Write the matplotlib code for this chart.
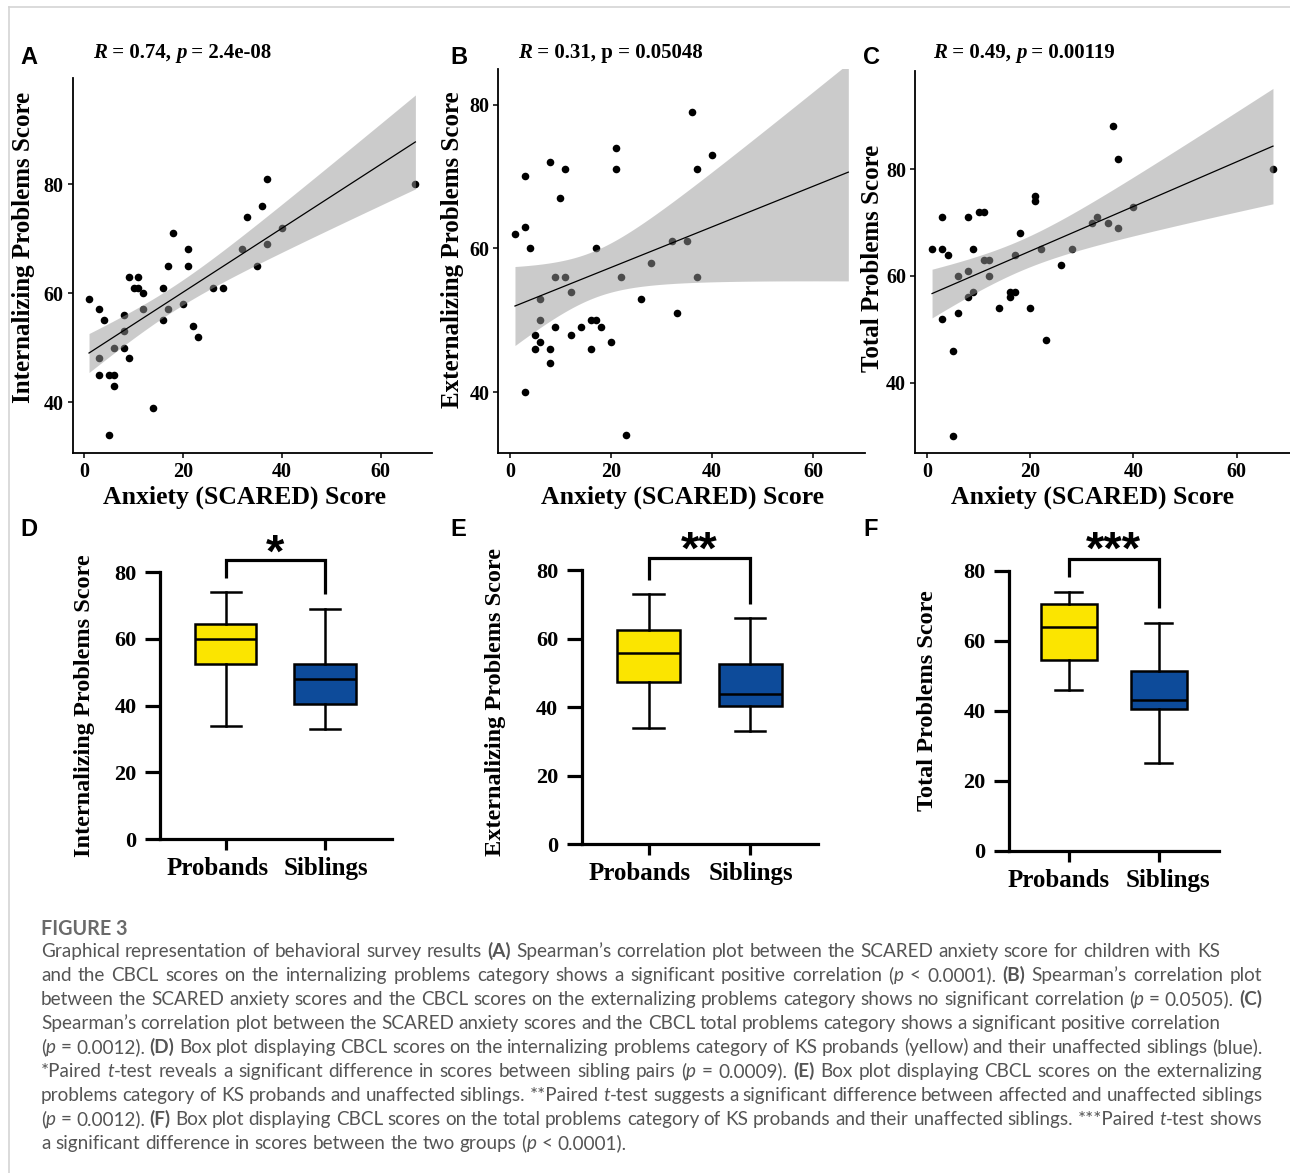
import re
import numpy as np
import matplotlib
matplotlib.use('Agg')
import matplotlib.pyplot as plt
from matplotlib.lines import Line2D
from matplotlib.transforms import ScaledTranslation

# scatter data (anxiety score vs CBCL score)
anx_int = [1, 3, 4, 3, 3, 5, 6, 6, 5, 6, 8, 8, 8, 9, 9, 10, 11, 11, 12, 12, 14, 16, 16, 17, 17,
           18, 20, 21, 21, 22, 23, 26, 28, 32, 33, 35, 36, 37, 37, 40, 67]
internalizing = [59, 57, 55, 48, 45, 45, 45, 43, 34, 50, 50, 53, 56, 48, 63, 61, 63, 61, 60, 57, 39, 61, 55, 65, 57,
                 71, 58, 68, 65, 54, 52, 61, 61, 68, 74, 65, 76, 81, 69, 72, 80]

anx_ext = [1, 3, 3, 3, 4, 5, 5, 6, 6, 6, 8, 8, 8, 9, 9, 10, 11, 11, 12, 12, 14, 16, 17, 16, 17,
           18, 20, 21, 21, 22, 23, 26, 28, 32, 33, 35, 36, 37, 37, 40]
externalizing = [62, 70, 63, 40, 60, 48, 46, 53, 50, 47, 72, 46, 44, 56, 49, 67, 71, 56, 54, 48, 49, 50, 50, 46, 60,
                 49, 47, 74, 71, 56, 34, 53, 58, 61, 51, 61, 79, 71, 56, 73]

anx_tot = [1, 3, 3, 3, 4, 5, 5, 6, 6, 8, 8, 8, 9, 9, 10, 11, 11, 12, 12, 14, 16, 16, 17, 17, 18,
           20, 21, 21, 22, 23, 26, 28, 32, 33, 35, 36, 37, 37, 40, 67]
total = [65, 71, 65, 52, 64, 46, 30, 60, 53, 71, 61, 56, 65, 57, 72, 72, 63, 63, 60, 54, 57, 56, 57, 64, 68,
         54, 75, 74, 65, 48, 62, 65, 70, 71, 70, 88, 82, 69, 73, 80]

fit_xmax = 67  # smooth line is drawn up to the largest anxiety score

scatter_titles = ['<i>R</i> = 0.74, <i>p</i> = 2.4e-08',
                  '<i>R</i> = 0.31, p = 0.05048',
                  '<i>R</i> = 0.49, <i>p</i> = 0.00119']
scatter_ylabels = ['Internalizing Problems Score', 'Externalizing Problems Score', 'Total Problems Score']
scatter_ylims = [(30.6, 99.4), (31.5, 84.9), (26.75, 98.4)]

# box plot summaries: (whisker low, q1, median, q3, whisker high)
groups = ['Probands', 'Siblings']
int_probands = [34, 52.5, 60, 64.5, 74]
int_siblings = [33, 40.5, 48, 52.5, 69]
ext_probands = [34, 47.5, 56, 62.5, 73]
ext_siblings = [33, 40.5, 44, 52.5, 66]
tot_probands = [46, 54.5, 64, 70.5, 74]
tot_siblings = [25, 40.5, 43, 51.5, 65]
stars = ['*', '**', '***']

caption_title = 'FIGURE 3'
caption_lines = [
    'Graphical representation of behavioral survey results <b>(A)</b> Spearman\u2019s correlation plot between the SCARED anxiety score for children with KS',
    'and the CBCL scores on the internalizing problems category shows a significant positive correlation (<i>p</i> < 0.0001). <b>(B)</b> Spearman\u2019s correlation plot',
    'between the SCARED anxiety scores and the CBCL scores on the externalizing problems category shows no significant correlation (<i>p</i> = 0.0505). <b>(C)</b>',
    'Spearman\u2019s correlation plot between the SCARED anxiety scores and the CBCL total problems category shows a significant positive correlation',
    '(<i>p</i> = 0.0012). <b>(D)</b> Box plot displaying CBCL scores on the internalizing problems category of KS probands (yellow) and their unaffected siblings (blue).',
    '*Paired <i>t</i>-test reveals a significant difference in scores between sibling pairs (<i>p</i> = 0.0009). <b>(E)</b> Box plot displaying CBCL scores on the externalizing',
    'problems category of KS probands and unaffected siblings. **Paired <i>t</i>-test suggests a significant difference between affected and unaffected siblings',
    '(<i>p</i> = 0.0012). <b>(F)</b> Box plot displaying CBCL scores on the total problems category of KS probands and their unaffected siblings. ***Paired <i>t</i>-test shows',
    'a significant difference in scores between the two groups (<i>p</i> < 0.0001).',
]
caption_widths = [1179, 1221, 1221, 1179, 1221, 1221, 1221, 1221, None]

plt.rcParams['font.family'] = ['Liberation Serif', 'DejaVu Serif']
plt.rcParams['font.weight'] = 'bold'

W, H = 1290, 1173
fig = plt.figure(figsize=(W / 100, H / 100), dpi=100)
renderer = fig.canvas.get_renderer()


def axes_px(left, top, right, bottom):
    return fig.add_axes([left / W, 1 - bottom / H, (right - left) / W, (bottom - top) / H])


def advance(s, **kw):
    t = fig.text(0, 0, '|' + s + '|', **kw)
    w1 = t.get_window_extent(renderer).width
    t.set_text('||')
    w0 = t.get_window_extent(renderer).width
    t.remove()
    return w1 - w0


def parse(line):
    runs = []
    for part in re.split(r'(<b>.*?</b>|<i>.*?</i>)', line):
        if not part:
            continue
        if part.startswith('<b>'):
            runs.append((part[3:-4], {'fontweight': 'bold'}))
        elif part.startswith('<i>'):
            runs.append((part[3:-4], {'fontstyle': 'italic'}))
        else:
            runs.append((part, {}))
    return runs


def draw_runs(x, y, line, base):
    for s, style in parse(line):
        kw = dict(base)
        kw.update(style)
        fig.text(x / W, 1 - y / H, s, ha='left', va='baseline', **kw)
        x += advance(s, **kw)
    return x


def words(line, base):
    # list of (text, props, width) with None standing for a space
    out = []
    for s, style in parse(line):
        kw = dict(base)
        kw.update(style)
        for j, piece in enumerate(s.split(' ')):
            if j > 0:
                out.append(None)
            if piece:
                out.append((piece, kw, advance(piece, **kw)))
    return out


def natural_width(line, base):
    sp = advance(' ', **base)
    return sum(sp if a is None else a[2] for a in words(line, base))


def draw_justified(x, y, line, base, target):
    atoms = words(line, base)
    n_sp = sum(a is None for a in atoms)
    if target is None or n_sp == 0:
        gap = advance(' ', **base)
    else:
        gap = (target - sum(a[2] for a in atoms if a is not None)) / n_sp
    for a in atoms:
        if a is None:
            x += gap
            continue
        fig.text(x / W, 1 - y / H, a[0], ha='left', va='baseline', **a[1])
        x += a[2]


def lm_band(x, y, xs, t=2.02):
    x = np.asarray(x, float)
    y = np.asarray(y, float)
    b, a = np.polyfit(x, y, 1)
    n = len(x)
    s = np.sqrt(np.sum((y - (a + b * x)) ** 2) / (n - 2))
    sxx = np.sum((x - x.mean()) ** 2)
    fit = a + b * xs
    se = s * np.sqrt(1 / n + (xs - x.mean()) ** 2 / sxx)
    return fit, fit - t * se, fit + t * se


# ---- scatter panels A-C ----
scatter_data = [(anx_int, internalizing), (anx_ext, externalizing), (anx_tot, total)]
scatter_boxes = [(72.7, 78.3, 431.7, 453.3), (498.3, 69.3, 865, 453.3), (915, 71, 1290, 453.3)]
title_x = [93, 518, 933]
ylabel_right = [35, 464, 884]   # px, right edge of the rotated y label
ylabel_cy = [0.549, 0.531, 0.51]
xlabel_cx = [0.479, 0.501, 0.473]

for i, ((x, y), box) in enumerate(zip(scatter_data, scatter_boxes)):
    ax = axes_px(*box)
    xs = np.linspace(min(x), fit_xmax, 200)
    fit, lo, hi = lm_band(x, y, xs)
    ax.scatter(x, y, s=30, color='black', linewidths=0, zorder=2)
    ax.fill_between(xs, lo, hi, color='#999999', alpha=0.5, linewidth=0, zorder=3)
    ax.plot(xs, fit, color='black', lw=0.9, zorder=4)

    span = fit_xmax - min(x)
    ax.set_xlim(min(x) - 0.05 * span, fit_xmax + 0.05 * span)
    ax.set_ylim(*scatter_ylims[i])
    ax.set_xticks([0, 20, 40, 60])
    ax.set_yticks([40, 60, 80])
    for side in ['top', 'right']:
        ax.spines[side].set_visible(False)
    for side in ['left', 'bottom']:
        ax.spines[side].set_linewidth(1.3)
    ax.tick_params(direction='out', length=3.5, width=1.1, labelsize=14.5, pad=3)
    for lab in ax.get_xticklabels() + ax.get_yticklabels():
        lab.set_fontweight('bold')
    ax.set_xlabel('Anxiety (SCARED) Score', fontsize=18.5, fontweight='bold')
    ax.xaxis.set_label_coords(xlabel_cx[i], -0.085)
    ax.set_ylabel(scatter_ylabels[i], fontsize=18, fontweight='bold')
    ax.yaxis.set_label_coords((ylabel_right[i] - box[0]) / (box[2] - box[0]), ylabel_cy[i])
    draw_runs(title_x[i], 58, scatter_titles[i],
              dict(fontsize=15, color='black', fontweight='bold', family='Liberation Serif'))

# ---- box plot panels D-F ----
box_data = [(int_probands, int_siblings), (ext_probands, ext_siblings), (tot_probands, tot_siblings)]
box_boxes = [(160, 572, 391.7, 839.3), (581.7, 570.3, 818.3, 844.3), (1009, 571, 1219.3, 850.7)]
box_colors = ['#FBE500', '#0D4B9A']
box_ylabel_right = [95, 506, 938]
box_ylabel_cy = [0.5, 0.52, 0.535]
label_shift = [(-8, 1), (-9, 1), (-10, 9)]  # px shift of the two group labels

for i, (pair, box) in enumerate(zip(box_data, box_boxes)):
    ax = axes_px(*box)
    stats = []
    for g, v in zip(groups, pair):
        stats.append(dict(label=g, whislo=v[0], q1=v[1], med=v[2], q3=v[3], whishi=v[4], fliers=[]))
    lw = 1.8
    art = ax.bxp(stats, positions=[0, 1], widths=0.62, capwidths=0.3, patch_artist=True,
                 showfliers=False,
                 boxprops=dict(linewidth=lw, edgecolor='black'),
                 medianprops=dict(color='black', linewidth=lw),
                 whiskerprops=dict(color='black', linewidth=lw),
                 capprops=dict(color='black', linewidth=lw))
    for patch, c in zip(art['boxes'], box_colors):
        patch.set_facecolor(c)
    ax.set_xlim(-0.66, 1.67)
    ax.set_ylim(0, 80)
    ax.set_yticks([0, 20, 40, 60, 80])
    for side in ['top', 'right']:
        ax.spines[side].set_visible(False)
    for side in ['left', 'bottom']:
        ax.spines[side].set_linewidth(2.3)
    ax.tick_params(axis='y', direction='out', length=11, width=2.3, labelsize=16, pad=6)
    ax.tick_params(axis='x', direction='out', length=8, width=2.3, labelsize=18, pad=5)
    for lab in ax.get_yticklabels():
        lab.set_fontweight('bold')
    for lab, dx in zip(ax.get_xticklabels(), label_shift[i]):
        lab.set_fontweight('bold')
        lab.set_transform(lab.get_transform() + ScaledTranslation(dx / 100, 0, fig.dpi_scale_trans))
    ax.set_ylabel(scatter_ylabels[i], fontsize=17.5, fontweight='bold')
    ax.yaxis.set_label_coords((box_ylabel_right[i] - box[0]) / (box[2] - box[0]), box_ylabel_cy[i])

    # significance bracket
    top = 83.5
    ax.plot([0, 0, 1, 1], [pair[0][4] + 4.3, top, top, pair[1][4] + 4.3], color='black', lw=2.3,
            clip_on=False, solid_joinstyle='miter', solid_capstyle='butt')
    fs = 34
    ax.text(0.5, 89.8, stars[i], fontsize=fs, family='Liberation Sans', fontweight='bold',
            ha='center', va='baseline', clip_on=False,
            transform=ax.transData + ScaledTranslation(0, -0.575 * fs / 72, fig.dpi_scale_trans))

# panel letters
letters = ['A', 'B', 'C', 'D', 'E', 'F']
letter_x = [20, 450, 863, 20, 450, 863]
letter_y = [64, 64, 64, 536, 536, 536]
for s, lx, ly in zip(letters, letter_x, letter_y):
    fig.text(lx / W, 1 - ly / H, s, fontsize=17, family='Liberation Sans', fontweight='bold',
             ha='left', va='baseline')

# ---- caption ----
cap_base = dict(family='Lato', color='#555555', fontweight='normal', fontsize=12)
ratios = [t / natural_width(l, cap_base) for l, t in zip(caption_lines, caption_widths) if t]
cap_base['fontsize'] = 12 * min(ratios)
fig.text(41 / W, 1 - 935 / H, caption_title, family='Lato', color='#6a6a6a', fontweight='bold',
         fontsize=cap_base['fontsize'] * 1.05, ha='left', va='baseline')
for k, (line, target) in enumerate(zip(caption_lines, caption_widths)):
    draw_justified(41, 957 + 24 * k, line, cap_base, target)

# thin frame of the page
fig.add_artist(Line2D([9 / W, 9 / W], [0, 1 - 7 / H], color='#d4d4d4', lw=1.2))
fig.add_artist(Line2D([9 / W, 1], [1 - 7 / H, 1 - 7 / H], color='#d4d4d4', lw=1.2))

fig.savefig('out.png', dpi=100)
